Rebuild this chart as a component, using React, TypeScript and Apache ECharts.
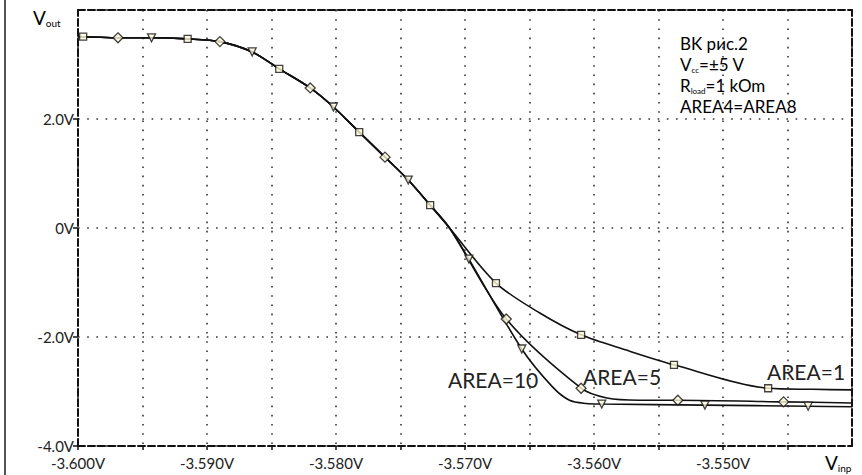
import React, { useEffect, useRef } from "react";
import * as echarts from "echarts";

// Input voltage window (V) and output voltage window (V)
const X_MIN = -3.6;
const X_MAX = -3.54;
const X_STEP = 0.005;
const Y_MIN = -4;
const Y_MAX = 4;
const Y_STEP = 2;

// Common part of the transfer curve, identical for every emitter area
const upperPath: [number, number][] = [
  [-3.6, 3.51],
  [-3.5996, 3.51],
  [-3.5969, 3.49],
  [-3.5943, 3.49],
  [-3.5915, 3.47],
  [-3.589, 3.42],
  [-3.5865, 3.23],
  [-3.5844, 2.92],
  [-3.582, 2.57],
  [-3.5802, 2.22],
  [-3.5782, 1.76],
  [-3.5762, 1.3],
  [-3.5744, 0.88],
  [-3.5727, 0.42],
  [-3.5712, 0.0],
];

// Branches after the curves split
const area1Tail: [number, number][] = [
  [-3.5676, -1.01],
  [-3.5642, -1.56],
  [-3.561, -1.96],
  [-3.5575, -2.24],
  [-3.5538, -2.51],
  [-3.5465, -2.94],
  [-3.543, -2.96],
  [-3.54, -2.97],
];
const area5Tail: [number, number][] = [
  [-3.5668, -1.67],
  [-3.561, -2.94],
  [-3.559, -3.12],
  [-3.5565, -3.16],
  [-3.5535, -3.16],
  [-3.5453, -3.19],
  [-3.54, -3.21],
];
const area10Tail: [number, number][] = [
  [-3.5697, -0.57],
  [-3.5656, -2.22],
  [-3.5632, -2.92],
  [-3.5619, -3.16],
  [-3.5606, -3.22],
  [-3.5594, -3.23],
  [-3.5514, -3.25],
  [-3.5434, -3.27],
  [-3.54, -3.28],
];

// Marker positions for each curve
const area1Markers: [number, number][] = [
  [-3.5996, 3.51],
  [-3.5915, 3.47],
  [-3.5844, 2.92],
  [-3.5782, 1.76],
  [-3.5727, 0.42],
  [-3.5676, -1.01],
  [-3.561, -1.96],
  [-3.5538, -2.51],
  [-3.5465, -2.94],
];
const area5Markers: [number, number][] = [
  [-3.5969, 3.49],
  [-3.589, 3.42],
  [-3.582, 2.57],
  [-3.5762, 1.3],
  [-3.5668, -1.67],
  [-3.561, -2.94],
  [-3.5535, -3.16],
  [-3.5453, -3.19],
];
const area10Markers: [number, number][] = [
  [-3.5943, 3.49],
  [-3.5865, 3.23],
  [-3.5802, 2.22],
  [-3.5744, 0.88],
  [-3.5697, -0.57],
  [-3.5656, -2.22],
  [-3.5594, -3.23],
  [-3.5514, -3.25],
  [-3.5434, -3.27],
];

const curveNames = ["AREA=1", "AREA=5", "AREA=10"];

const INK = "#111";
const MARK_FILL = "#fffbdc";
const TEXT_FONT = "Lato, 'Open Sans', sans-serif";

const frameLine = { show: true, lineStyle: { color: INK, width: 2, type: [7, 3] as number[] } };
const dotted = { show: true, lineStyle: { color: "#333", width: 1.6, type: [1.6, 7.6] as number[] } };

export default function App() {
  const ref = useRef<HTMLDivElement>(null);

  useEffect(() => {
    if (!ref.current) return;
    const chart = echarts.init(ref.current, null, { renderer: "svg" });

    const curve = (name: string, tail: [number, number][]) => ({
      name,
      type: "line",
      data: [...upperPath, ...tail],
      showSymbol: false,
      smooth: 0.3,
      lineStyle: { color: INK, width: 1.6 },
      z: 2,
    });
    const markers = (name: string, pts: [number, number][], symbol: string, size: number, rotate = 0) => ({
      name,
      type: "scatter",
      data: pts,
      symbol,
      symbolSize: size,
      symbolRotate: rotate,
      itemStyle: { color: MARK_FILL, borderColor: INK, borderWidth: 1.3 },
      z: 3,
    });

    const sub = (main: string, small: string, rest = "") =>
      `{m|${main}}{s|${small}}${rest ? `{m|${rest}}` : ""}`;
    const richBase = (size: number, subSize: number) => ({
      m: { fontSize: size, lineHeight: size + 3, fontFamily: TEXT_FONT, color: "#222" },
      s: { fontSize: subSize, lineHeight: subSize, fontFamily: TEXT_FONT, color: "#222", verticalAlign: "bottom" },
    });

    chart.setOption({
      animation: false,
      backgroundColor: "#fff",
      grid: { left: 78, right: 10, top: 10, bottom: 29 },
      xAxis: [
        {
          type: "value",
          min: X_MIN,
          max: X_MAX,
          interval: X_STEP,
          axisLine: { ...frameLine, onZero: false },
          axisTick: { show: true, length: 4, lineStyle: { color: INK, width: 1.5 } },
          axisLabel: {
            margin: 9,
            showMaxLabel: false,
            fontFamily: TEXT_FONT,
            fontSize: 15,
            color: "#222",
            formatter: (v: number) => (Math.round(v * 1000) % 10 === 0 ? v.toFixed(3) + "V" : ""),
          },
          splitLine: dotted,
        },
        {
          type: "value",
          position: "top",
          min: X_MIN,
          max: X_MAX,
          axisLine: { ...frameLine, onZero: false },
          axisTick: { show: false },
          axisLabel: { show: false },
          splitLine: { show: false },
        },
      ],
      yAxis: [
        {
          type: "value",
          min: Y_MIN,
          max: Y_MAX,
          interval: Y_STEP,
          axisLine: { ...frameLine, onZero: false },
          axisTick: { show: true, length: 5, lineStyle: { color: INK, width: 1.5 } },
          axisLabel: {
            margin: 4,
            showMaxLabel: false,
            fontFamily: TEXT_FONT,
            fontSize: 15,
            color: "#222",
            formatter: (v: number) => (v === 0 ? "0V" : v.toFixed(1) + "V"),
          },
          splitLine: dotted,
        },
        {
          type: "value",
          position: "right",
          min: Y_MIN,
          max: Y_MAX,
          axisLine: { ...frameLine, onZero: false },
          axisTick: { show: false },
          axisLabel: { show: false },
          splitLine: { show: false },
        },
      ],
      series: [
        curve(curveNames[0], area1Tail),
        curve(curveNames[1], area5Tail),
        curve(curveNames[2], area10Tail),
        markers(curveNames[0], area1Markers, "rect", 7),
        markers(curveNames[1], area5Markers, "diamond", 10),
        markers(curveNames[2], area10Markers, "triangle", 8, 180),
      ],
      graphic: [
        { type: "line", shape: { x1: 5, y1: 0, x2: 5, y2: 475 }, style: { stroke: "#555", lineWidth: 2 } },
        {
          type: "text", x: 33, y: 17,
          style: { text: sub("V", "out"), rich: richBase(19, 10), verticalAlign: "middle" },
        },
        {
          type: "text", x: 825, y: 462,
          style: { text: sub("V", "inp"), rich: richBase(19, 10), verticalAlign: "middle" },
        },
        {
          type: "text", x: 680, y: 43,
          style: { text: "{m|BK рис.2}", rich: richBase(17, 8), verticalAlign: "middle" },
        },
        {
          type: "text", x: 680, y: 64,
          style: { text: sub("V", "cc", "=±5 V"), rich: richBase(17, 8), verticalAlign: "middle" },
        },
        {
          type: "text", x: 680, y: 85,
          style: { text: sub("R", "load", "=1 kOm"), rich: richBase(17, 8), verticalAlign: "middle" },
        },
        {
          type: "text", x: 680, y: 106,
          style: { text: "{m|AREA4=AREA8}", rich: richBase(17, 8), verticalAlign: "middle" },
        },
        {
          type: "text", x: 448, y: 379,
          style: { text: curveNames[2], font: `21px ${TEXT_FONT}`, fill: "#222", verticalAlign: "middle" },
        },
        {
          type: "text", x: 583, y: 376,
          style: { text: curveNames[1], font: `21px ${TEXT_FONT}`, fill: "#222", verticalAlign: "middle" },
        },
        {
          type: "text", x: 767, y: 371,
          style: { text: curveNames[0], font: `21px ${TEXT_FONT}`, fill: "#222", verticalAlign: "middle" },
        },
      ],
    });

    return () => chart.dispose();
  }, []);

  return <div ref={ref} style={{ width: 862, height: 475, position: "fixed", left: 0, top: 0 }} />;
}
